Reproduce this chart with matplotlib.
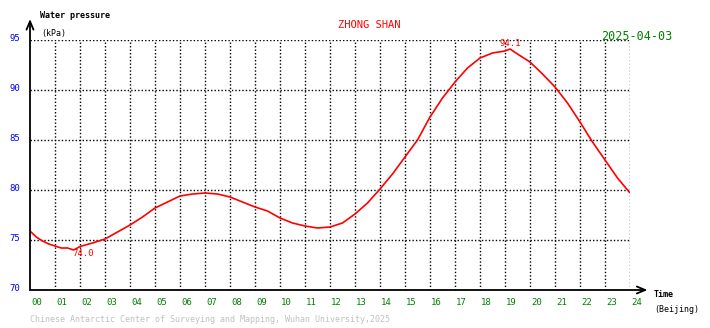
#!/usr/bin/env python3
"""Daily water pressure at Zhong Shan station, hourly axis in Beijing time.
Writes out.png."""
import matplotlib

matplotlib.use("Agg")
import matplotlib.pyplot as plt

# readings: hour of day (Beijing) and pressure in kPa
hours = [0.0, 0.25, 0.5, 0.75, 1.0, 1.25, 1.5, 1.75, 2.0, 2.5, 3.0, 3.5,
         4.0, 4.5, 5.0, 5.5, 6.0, 6.5, 7.0, 7.5, 8.0, 8.5, 9.0, 9.5,
         10.0, 10.5, 11.0, 11.5, 12.0, 12.5, 13.0, 13.5, 14.0, 14.5, 15.0,
         15.5, 16.0, 16.5, 17.0, 17.5, 18.0, 18.5, 19.0, 19.2, 19.5, 20.0,
         20.5, 21.0, 21.5, 22.0, 22.5, 23.0, 23.5, 24.0]
pressure = [75.9, 75.3, 74.9, 74.6, 74.4, 74.2, 74.2, 74.0, 74.35, 74.7, 75.1, 75.8,
            76.5, 77.3, 78.2, 78.8, 79.4, 79.6, 79.7, 79.6, 79.3, 78.8, 78.3, 77.9,
            77.2, 76.7, 76.4, 76.2, 76.3, 76.7, 77.6, 78.7, 80.1, 81.6, 83.3,
            85.0, 87.3, 89.2, 90.8, 92.2, 93.2, 93.7, 93.9, 94.1, 93.6, 92.8,
            91.6, 90.3, 88.7, 86.8, 84.8, 83.0, 81.2, 79.7]

x_ticks = list(range(0, 25))
x_labels = [f"{h:02d}" for h in x_ticks]
y_ticks = [70, 75, 80, 85, 90, 95]

station = "ZHONG SHAN"
date = "2025-04-03"
credit = "Chinese Antarctic Center of Surveying and Mapping, Wuhan University,2025"

W, H = 710, 328
MONO = "DejaVu Sans Mono"

fig = plt.figure(figsize=(W / 100, H / 100), dpi=100)
fig.patch.set_facecolor("white")
# plot area: hour 0..24 -> px 30..630, 70..95 kPa -> px 290..40
ax = fig.add_axes([30 / W, (H - 290) / H, 600 / W, 250 / H])
ax.set_xlim(0, 24)
ax.set_ylim(70, 95)
ax.axis("off")

dot = dict(color="black", lw=1, ls=(0, (1, 1.5)))
for h in x_ticks[1:]:
    ax.plot([h, h], [70, 95], **dot)
for v in y_ticks[1:]:
    ax.plot([0, 24], [v, v], **dot)

ax.plot(hours, pressure, color="red", lw=1.2, solid_capstyle="butt")

i_max = pressure.index(max(pressure))
i_min = pressure.index(min(pressure))
ax.annotate(f"{pressure[i_max]:.1f}", (hours[i_max], pressure[i_max]),
            xytext=(0, 6), textcoords="offset pixels", ha="center", va="center",
            color="red", fontsize=6.5, family=MONO)
ax.annotate(f"{pressure[i_min]:.1f}", (hours[i_min], pressure[i_min]),
            xytext=(9, -3), textcoords="offset pixels", ha="center", va="center",
            color="red", fontsize=6.5, family=MONO)

# axes with open arrow heads
arrow = dict(arrowstyle="->,head_length=0.6,head_width=0.25", color="black",
             lw=1.3, shrinkA=0, shrinkB=0)
ax.annotate("", xy=(0, 97.1), xytext=(0, 70), arrowprops=arrow,
            annotation_clip=False)
ax.annotate("", xy=(24.7, 70), xytext=(0, 70), arrowprops=arrow,
            annotation_clip=False)

for h, lab in zip(x_ticks, x_labels):
    ax.annotate(lab, (h, 70), xytext=(1, -12), textcoords="offset pixels",
                ha="left", va="center", color="green", fontsize=6.5,
                family=MONO, annotation_clip=False)
for v in y_ticks:
    ax.annotate(str(v), (0, v), xytext=(-21, 2), textcoords="offset pixels",
                ha="left", va="center", color="blue", fontsize=6.5,
                family=MONO, annotation_clip=False)

def px(x, y, s, **kw):
    fig.text(x / W, 1 - y / H, s, family=MONO, **kw)

px(40, 16, "Water pressure", fontsize=6, weight="bold", va="center")
px(41, 33.5, "(kPa)", fontsize=6, va="center")
px(654, 294.5, "Time", fontsize=6, weight="bold", va="center")
px(654, 309.5, "(Beijing)", fontsize=6, va="center")
px(369, 25, station, fontsize=7.5, color="red", ha="center", va="center")
px(672, 37, date, fontsize=8.5, color="green", ha="right", va="center")
px(30, 320, credit, fontsize=6, color="#c0c0c0", va="center")

fig.savefig("out.png", dpi=100, facecolor="white")
